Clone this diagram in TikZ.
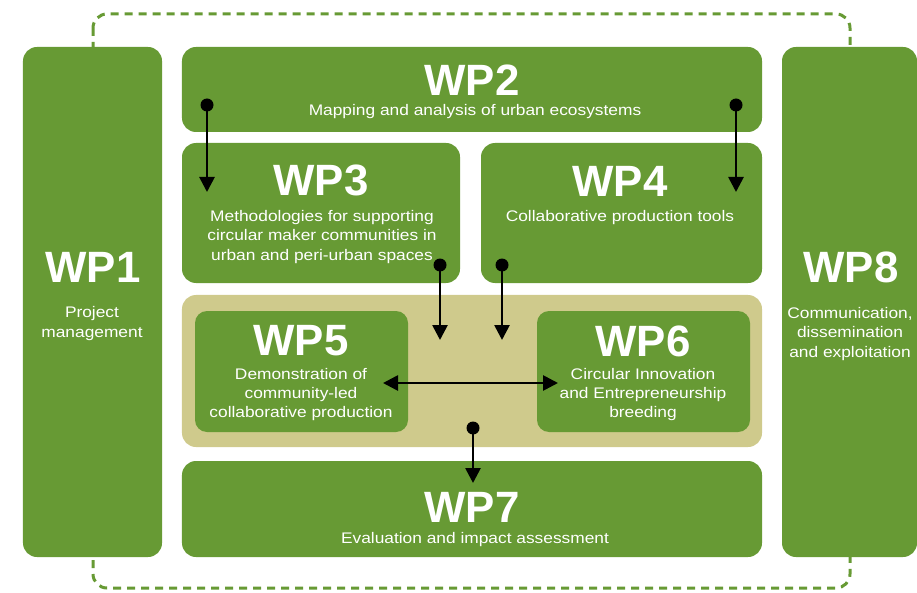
\documentclass[tikz,border=0pt]{standalone}
\usepackage{fontspec}
\setmainfont{Liberation Sans}
\newfontfamily\wpwide[FakeStretch=1.13]{Liberation Sans}
\usetikzlibrary{arrows.meta}

\definecolor{wpgreen}{RGB}{103,154,52}
\definecolor{wptan}{RGB}{207,202,140}

\begin{document}
\begin{tikzpicture}[x=1bp,y=-1bp,
    wpbox/.style={fill=wpgreen, rounded corners=14bp, inner sep=0pt},
    wptitle/.style={text=white, inner sep=0pt, font=\fontsize{44}{44}\selectfont\bfseries},
    wptext/.style={text=white, inner sep=0pt, align=center, font=\wpwide\fontsize{15.4}{19.5}\selectfont},
    wpdot/.style={circle, fill=black, minimum size=13bp, inner sep=0pt},
    wplink/.style={line width=2.7bp, -{Triangle[length=15bp,width=15bp]}}]
    \useasboundingbox (0,0) rectangle (917,593);
    \draw [wpgreen, line width=3bp, dash pattern=on 8bp off 6bp, rounded corners=14bp] (93,14) rectangle (850,588);
    \node [wpbox, minimum width=139bp, minimum height=510bp] (wp1) at (92.5,302) {};
    \node [wpbox, minimum width=580bp, minimum height=85bp] (wp2) at (472,89.5) {};
    \node [wpbox, minimum width=278bp, minimum height=140bp] (wp3) at (321,213) {};
    \node [wpbox, minimum width=281bp, minimum height=140bp] (wp4) at (621.5,213) {};
    \node [wpbox, fill=wptan, minimum width=580bp, minimum height=152bp] (core) at (472,371) {};
    \node [wpbox, rounded corners=12bp, minimum width=213bp, minimum height=121bp] (wp5) at (301.5,371.5) {};
    \node [wpbox, rounded corners=12bp, minimum width=213bp, minimum height=121bp] (wp6) at (643.5,371.5) {};
    \node [wpbox, minimum width=580bp, minimum height=96bp] (wp7) at (472,509) {};
    \node [wpbox, minimum width=135bp, minimum height=510bp] (wp8) at (849.5,302) {};
    \node [wptitle] (wp1t) at (93,267) {WP1};
    \node [wptext] (wp1d) at (92,323.5) {Project\\management};
    \node [wptitle] (wp2t) at (472,80) {WP2};
    \node [wptext] (wp2d) at (475,112) {Mapping and analysis of urban ecosystems};
    \node [wptitle] (wp3t) at (321,180) {WP3};
    \node [wptext] (wp3d) at (322,237) {Methodologies for supporting\\circular maker communities in\\urban and peri-urban spaces};
    \node [wptitle] (wp4t) at (620,181) {WP4};
    \node [wptext] (wp4d) at (620,218) {Collaborative production tools};
    \node [wptitle] (wp5t) at (301,341) {WP5};
    \node [wptext] (wp5d) at (301,394.5) {Demonstration of\\community-led\\collaborative production};
    \node [wptitle] (wp6t) at (643,341) {WP6};
    \node [wptext] (wp6d) at (643,394.5) {Circular Innovation\\and Entrepreneurship\\breeding};
    \node [wptitle] (wp7t) at (472,507.5) {WP7};
    \node [wptext] (wp7d) at (475,540) {Evaluation and impact assessment};
    \node [wptitle] (wp8t) at (851,267) {WP8};
    \node [wptext] (wp8d) at (850,334) {Communication,\\dissemination\\and exploitation};
    \node [wpdot] (d23) at (207,105) {};
    \node [wpdot] (d24) at (736,105) {};
    \node [wpdot] (d3c) at (440,265) {};
    \node [wpdot] (d4c) at (502,265) {};
    \node [wpdot] (dc7) at (473,428) {};
    \coordinate (in3) at (207,192);
    \coordinate (in4) at (736,192);
    \coordinate (inc3) at (440,340);
    \coordinate (inc4) at (502,340);
    \coordinate (in5) at (383,383);
    \coordinate (in6) at (558,383);
    \coordinate (in7) at (473,483);
    \draw [wplink] (d23.center) -- (in3);
    \draw [wplink] (d24.center) -- (in4);
    \draw [wplink] (d3c.center) -- (inc3);
    \draw [wplink] (d4c.center) -- (inc4);
    \draw [wplink, {Triangle[length=15bp,width=15bp]}-{Triangle[length=15bp,width=15bp]}] (in5) -- (in6);
    \draw [wplink] (dc7.center) -- (in7);
\end{tikzpicture}
\end{document}
